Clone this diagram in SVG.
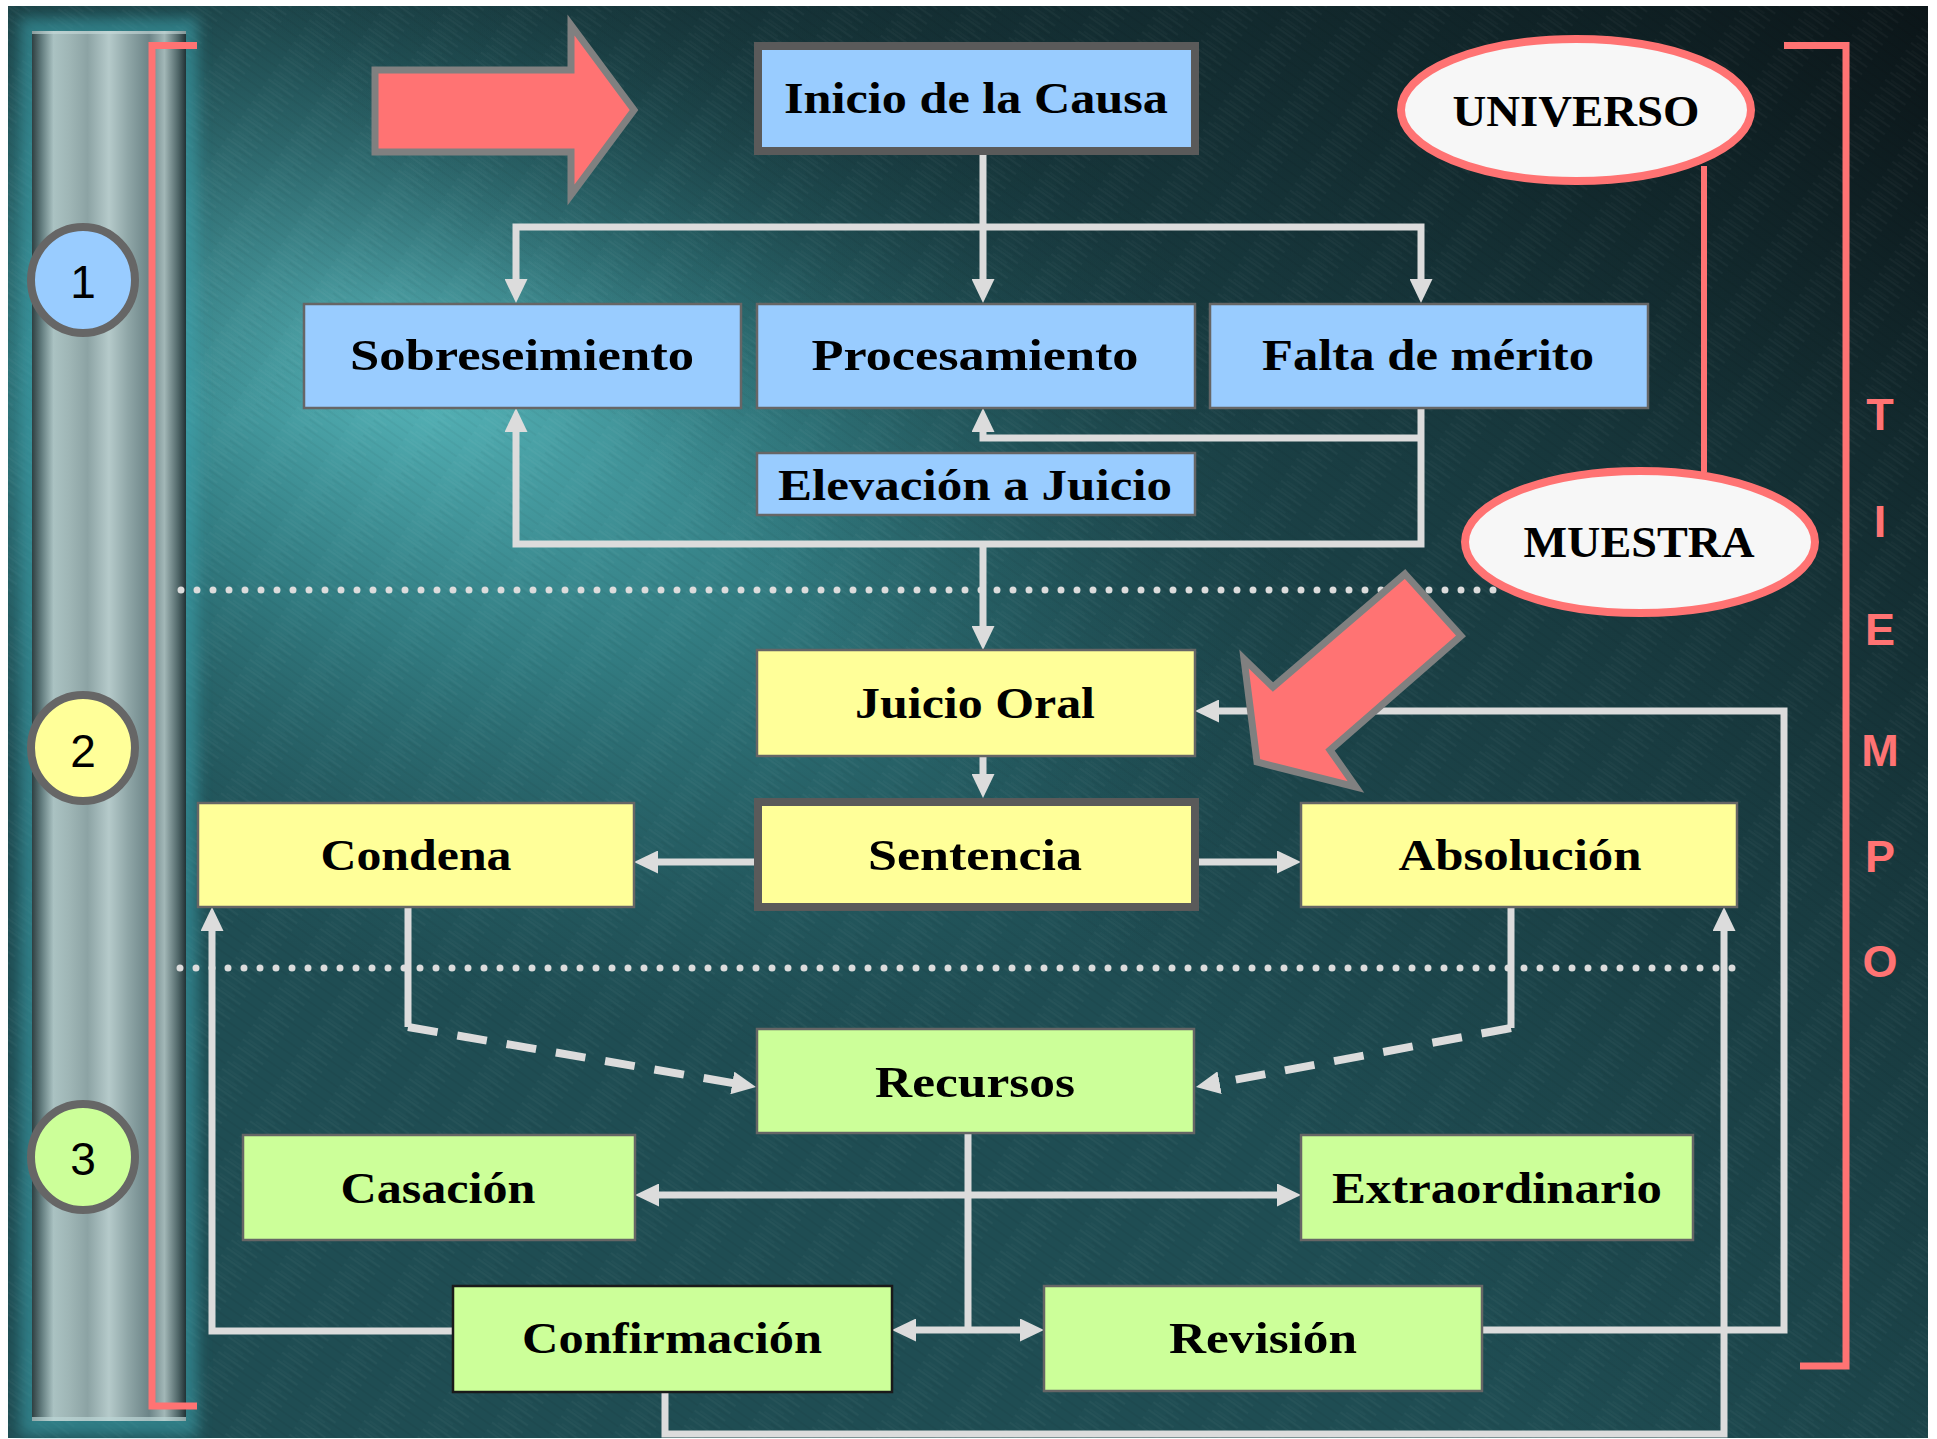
<svg xmlns="http://www.w3.org/2000/svg" width="1937" height="1439" viewBox="0 0 1937 1439">
<defs>
  <radialGradient id="hl" gradientUnits="userSpaceOnUse" cx="400" cy="350" r="980" gradientTransform="translate(400 350) rotate(28) scale(1 0.6) translate(-400 -350)">
    <stop offset="0" stop-color="#5fc3c7" stop-opacity="0.95"/>
    <stop offset="0.45" stop-color="#3f9ba0" stop-opacity="0.6"/>
    <stop offset="1" stop-color="#2a6d72" stop-opacity="0"/>
  </radialGradient>
  <linearGradient id="dk" gradientUnits="userSpaceOnUse" x1="1937" y1="0" x2="1000" y2="850">
    <stop offset="0" stop-color="#0b1417" stop-opacity="0.97"/>
    <stop offset="0.55" stop-color="#11262a" stop-opacity="0.45"/>
    <stop offset="1" stop-color="#11262a" stop-opacity="0"/>
  </linearGradient>
  <linearGradient id="tp" gradientUnits="userSpaceOnUse" x1="0" y1="0" x2="0" y2="420">
    <stop offset="0" stop-color="#0e1f23" stop-opacity="0.55"/>
    <stop offset="1" stop-color="#0e1f23" stop-opacity="0"/>
  </linearGradient>
  <pattern id="tex" patternUnits="userSpaceOnUse" width="53" height="9" patternTransform="rotate(35)">
    <line x1="0" y1="1" x2="31" y2="1" stroke="#ffffff" stroke-opacity="0.05" stroke-width="1.1"/>
    <line x1="17" y1="4" x2="53" y2="4" stroke="#000000" stroke-opacity="0.07" stroke-width="1.1"/>
    <line x1="5" y1="7" x2="22" y2="7" stroke="#ffffff" stroke-opacity="0.04" stroke-width="1"/>
  </pattern>
  <linearGradient id="metal" x1="0" y1="0" x2="1" y2="0">
    <stop offset="0" stop-color="#2f3f41"/>
    <stop offset="0.06" stop-color="#607a7c"/>
    <stop offset="0.14" stop-color="#aac2c2"/>
    <stop offset="0.24" stop-color="#9fb6b6"/>
    <stop offset="0.36" stop-color="#8ca3a4"/>
    <stop offset="0.5" stop-color="#b5caca"/>
    <stop offset="0.62" stop-color="#90a7a8"/>
    <stop offset="0.76" stop-color="#6c8487"/>
    <stop offset="0.86" stop-color="#a2b7b7"/>
    <stop offset="0.95" stop-color="#4f6668"/>
    <stop offset="1" stop-color="#223235"/>
  </linearGradient>
  <filter id="blur" x="-20%" y="-5%" width="140%" height="110%">
    <feGaussianBlur stdDeviation="7"/>
  </filter>
  <marker id="ah" markerUnits="userSpaceOnUse" viewBox="0 0 24 23" markerWidth="24" markerHeight="23" refX="2" refY="11.5" orient="auto-start-reverse">
    <path d="M0,0 L24,11.5 L0,23 z" fill="#dcdcdc"/>
  </marker>
  <style>
    .box { stroke: #666666; stroke-width: 2.5; }
    .thick { stroke: #5a5a5a; stroke-width: 8; }
    .blue { fill: #99ccff; }
    .yel { fill: #ffff99; }
    .grn { fill: #ccff99; }
    .lbl { font-family: "Liberation Serif", "Times New Roman", serif; font-weight: bold; font-size: 45px; fill: #000000; text-anchor: middle; }
    .num { font-family: "Liberation Sans", Arial, sans-serif; font-size: 46px; fill: #000000; text-anchor: middle; }
    .tiempo { font-family: "Liberation Sans", Arial, sans-serif; font-weight: bold; font-size: 45px; fill: #ff7373; text-anchor: middle; }
    .conn { fill: none; stroke: #dcdcdc; stroke-width: 7; }
    .dash { fill: none; stroke: #dcdcdc; stroke-width: 8; stroke-dasharray: 30 20; }
    .dots { fill: none; stroke: #dcdcdc; stroke-width: 7; stroke-linecap: round; stroke-dasharray: 0 16; }
    .red { fill: none; stroke: #ff7373; stroke-width: 7; }
    .bigarrow { fill: #ff7373; stroke: #808080; stroke-width: 7; stroke-linejoin: miter; }
    .oval { fill: #f7f7f7; stroke: #ff7373; stroke-width: 8; }
    .circ { stroke: #666666; stroke-width: 8; }
  </style>
</defs>

<!-- background -->
<rect x="0" y="0" width="1937" height="1439" fill="#ffffff"/>
<g id="background">
  <rect x="8" y="6" width="1920" height="1432" fill="#1f4d53"/>
  <rect x="8" y="6" width="1920" height="1432" fill="url(#hl)"/>
  <rect x="8" y="6" width="1920" height="1432" fill="url(#tp)"/>
  <rect x="8" y="6" width="1920" height="1432" fill="url(#dk)"/>
  <rect x="8" y="6" width="1920" height="1432" fill="url(#tex)"/>
</g>

<!-- pillar -->
<g id="pillar">
  <rect x="20" y="18" width="178" height="1418" fill="#3ea6b0" opacity="0.55" filter="url(#blur)"/>
  <rect x="32" y="31" width="154" height="1390" fill="url(#metal)"/>
  <rect x="32" y="31" width="154" height="3" fill="#c9dcdc" opacity="0.6"/>
  <rect x="32" y="1417" width="154" height="4" fill="#bcd6d6" opacity="0.7"/>
</g>

<!-- brackets -->
<g id="brackets">
  <path class="red" d="M197,45.5 H152 V1406 H197"/>
  <path class="red" d="M1784,45.5 H1846 V1366 H1800"/>
  <line x1="1704" y1="166" x2="1704" y2="472" stroke="#ff7373" stroke-width="6"/>
</g>

<!-- dotted separators -->
<g id="separators">
  <line class="dots" x1="181" y1="590" x2="1500" y2="590"/>
  <line class="dots" x1="180" y1="968" x2="1736" y2="968"/>
</g>

<!-- connectors -->
<g id="connectors">
  <path class="conn" d="M983,151 V281" marker-end="url(#ah)"/>
  <path class="conn" d="M516,281 V227 H1421 V281" marker-start="url(#ah)" marker-end="url(#ah)"/>
  <path class="conn" d="M1421,408 V544 H516 V430" marker-end="url(#ah)"/>
  <path class="conn" d="M1421,438 H983 V430" marker-end="url(#ah)"/>
  <path class="conn" d="M983,544 V628" marker-end="url(#ah)"/>
  <path class="conn" d="M983,756 V776" marker-end="url(#ah)"/>
  <path class="conn" d="M754,862 H656" marker-end="url(#ah)"/>
  <path class="conn" d="M1199,862 H1279" marker-end="url(#ah)"/>
  <path class="conn" d="M1482,1330 H1784 V711 H1217" marker-end="url(#ah)"/>
  <path class="conn" d="M665,1392 V1434 H1724 V929" marker-end="url(#ah)"/>
  <path class="conn" d="M1511,907 V1028"/>
  <path class="dash" d="M1511,1028 L1217.6,1083" marker-end="url(#ah)"/>
  <path class="conn" d="M408,907 V1027"/>
  <path class="dash" d="M408,1027 L734.3,1083.3" marker-end="url(#ah)"/>
  <path class="conn" d="M968,1133 V1330"/>
  <path class="conn" d="M657,1195 H1279" marker-start="url(#ah)" marker-end="url(#ah)"/>
  <path class="conn" d="M914,1330 H1022" marker-start="url(#ah)" marker-end="url(#ah)"/>
  <path class="conn" d="M453,1331 H212 V929" marker-end="url(#ah)"/>
</g>

<!-- stage circles -->
<g id="stage1">
  <ellipse class="circ blue" cx="83" cy="280" rx="52" ry="53"/>
  <text class="num" x="83" y="298">1</text>
</g>
<g id="stage2">
  <ellipse class="circ yel" cx="83" cy="748" rx="52" ry="53"/>
  <text class="num" x="83" y="767">2</text>
</g>
<g id="stage3">
  <ellipse class="circ grn" cx="83" cy="1157" rx="52" ry="53"/>
  <text class="num" x="83" y="1175">3</text>
</g>

<!-- nodes -->
<g id="inicio">
  <rect class="thick blue" x="758" y="46" width="437" height="105"/>
  <text class="lbl" x="976" y="113" textLength="384" lengthAdjust="spacingAndGlyphs">Inicio de la Causa</text>
</g>
<g id="sobreseimiento">
  <rect class="box blue" x="304" y="304" width="437" height="104"/>
  <text class="lbl" x="522" y="370" textLength="344" lengthAdjust="spacingAndGlyphs">Sobreseimiento</text>
</g>
<g id="procesamiento">
  <rect class="box blue" x="757" y="304" width="438" height="104"/>
  <text class="lbl" x="975" y="370" textLength="327" lengthAdjust="spacingAndGlyphs">Procesamiento</text>
</g>
<g id="falta">
  <rect class="box blue" x="1210" y="304" width="438" height="104"/>
  <text class="lbl" x="1428" y="370" textLength="332" lengthAdjust="spacingAndGlyphs">Falta de mérito</text>
</g>
<g id="elevacion">
  <rect class="box blue" x="757" y="453" width="438" height="62"/>
  <text class="lbl" x="975" y="500" textLength="394" lengthAdjust="spacingAndGlyphs">Elevación a Juicio</text>
</g>
<g id="juicio">
  <rect class="box yel" x="757" y="650" width="438" height="106"/>
  <text class="lbl" x="975" y="718" textLength="240" lengthAdjust="spacingAndGlyphs">Juicio Oral</text>
</g>
<g id="sentencia">
  <rect class="thick yel" x="758" y="802" width="437" height="105"/>
  <text class="lbl" x="975" y="870" textLength="214" lengthAdjust="spacingAndGlyphs">Sentencia</text>
</g>
<g id="condena">
  <rect class="box yel" x="198" y="803" width="436" height="104"/>
  <text class="lbl" x="416" y="870" textLength="191" lengthAdjust="spacingAndGlyphs">Condena</text>
</g>
<g id="absolucion">
  <rect class="box yel" x="1301" y="803" width="436" height="104"/>
  <text class="lbl" x="1520" y="870" textLength="243" lengthAdjust="spacingAndGlyphs">Absolución</text>
</g>
<g id="recursos">
  <rect class="box grn" x="757" y="1029" width="437" height="104"/>
  <text class="lbl" x="975" y="1097" textLength="200" lengthAdjust="spacingAndGlyphs">Recursos</text>
</g>
<g id="casacion">
  <rect class="box grn" x="243" y="1135" width="392" height="105"/>
  <text class="lbl" x="438" y="1203" textLength="195" lengthAdjust="spacingAndGlyphs">Casación</text>
</g>
<g id="extraordinario">
  <rect class="box grn" x="1301" y="1135" width="392" height="105"/>
  <text class="lbl" x="1497" y="1203" textLength="330" lengthAdjust="spacingAndGlyphs">Extraordinario</text>
</g>
<g id="confirmacion">
  <rect class="grn" x="453" y="1286" width="439" height="106" stroke="#1a1a1a" stroke-width="2.5"/>
  <text class="lbl" x="672" y="1353" textLength="300" lengthAdjust="spacingAndGlyphs">Confirmación</text>
</g>
<g id="revision">
  <rect class="box grn" x="1044" y="1286" width="438" height="105"/>
  <text class="lbl" x="1263" y="1353" textLength="188" lengthAdjust="spacingAndGlyphs">Revisión</text>
</g>

<!-- ovals -->
<g id="universo">
  <ellipse class="oval" cx="1576" cy="110" rx="175" ry="71"/>
  <text class="lbl" x="1576" y="126" textLength="247" lengthAdjust="spacingAndGlyphs">UNIVERSO</text>
</g>
<g id="muestra">
  <ellipse class="oval" cx="1640" cy="542" rx="175" ry="71"/>
  <text class="lbl" x="1639" y="557" textLength="231" lengthAdjust="spacingAndGlyphs">MUESTRA</text>
</g>

<!-- big red arrows -->
<g id="arrow-inicio">
  <polygon class="bigarrow" points="375,70 571,70 571,25 634,110 571,195 571,152 375,152"/>
</g>
<g id="arrow-muestra">
  <polygon class="bigarrow" points="1405,574 1461,636 1330,750 1356,787 1257,762 1244,659 1273,687"/>
</g>

<!-- TIEMPO -->
<g id="tiempo">
  <text class="tiempo" x="1880" y="430">T</text>
  <text class="tiempo" x="1880" y="537">I</text>
  <text class="tiempo" x="1880" y="645">E</text>
  <text class="tiempo" x="1880" y="766">M</text>
  <text class="tiempo" x="1880" y="872">P</text>
  <text class="tiempo" x="1880" y="977">O</text>
</g>
</svg>
